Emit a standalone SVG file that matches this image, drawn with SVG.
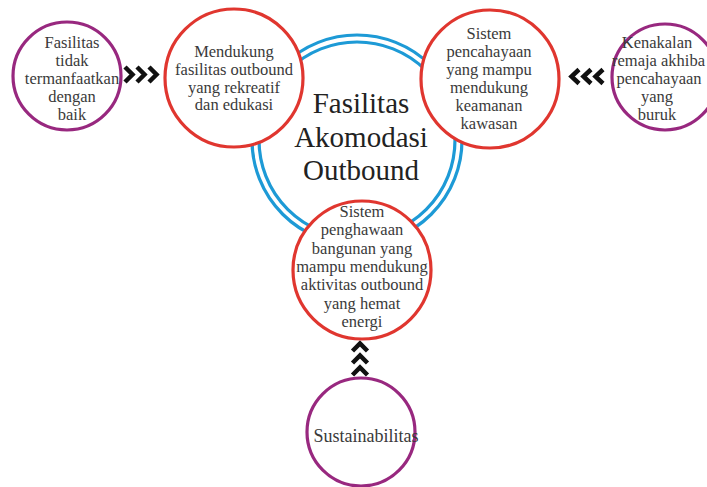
<svg xmlns="http://www.w3.org/2000/svg" width="707" height="487" viewBox="0 0 707 487">
<style>
.ring{fill:none;stroke:#1d9ad6;stroke-width:3.2}
.red{fill:#fff;stroke:#e0362f;stroke-width:3.2}
.pur{fill:#fff;stroke:#98287f;stroke-width:3.2}
.t{font-family:'Liberation Serif','Times New Roman','DejaVu Serif',serif;font-size:16.5px;fill:#3a3a3a;text-anchor:middle}
.title{font-family:'Liberation Serif','Times New Roman','DejaVu Serif',serif;font-size:29px;fill:#222;text-anchor:middle}
.chev{fill:none;stroke:#111;stroke-width:4.5;stroke-linejoin:miter;stroke-miterlimit:10}
</style>
<rect width="707" height="487" fill="#fff"/>
<g id="ring" font-family="Liberation Serif, DejaVu Serif, serif">
<circle class="ring" cx="357" cy="140" r="105"/>
<circle class="ring" cx="357" cy="140" r="98"/>
<text class="title" x="361" y="113">Fasilitas</text>
<text class="title" x="361" y="147">Akomodasi</text>
<text class="title" x="361" y="180">Outbound</text>
</g>
<g id="connectors">
<path class="chev" d="M125,67 L132.5,74.5 L125,82 M137,67 L144.5,74.5 L137,82 M149,67 L156.5,74.5 L149,82"/>
<path class="chev" d="M603,69.5 L595.5,76.5 L603,83.5 M591,69.5 L583.5,76.5 L591,83.5 M579,69.5 L571.5,76.5 L579,83.5"/>
<path class="chev" d="M352.5,351 L360,343.5 L367.5,351 M352.5,363 L360,355.5 L367.5,363 M352.5,375 L360,367.5 L367.5,375"/>
</g>
<g id="node-rekreatif" font-family="Liberation Serif, DejaVu Serif, serif">
<circle class="red" cx="234" cy="78" r="69"/>
<text class="t" x="234" y="57">Mendukung</text>
<text class="t" x="234" y="75">fasilitas outbound</text>
<text class="t" x="234" y="92.5">yang rekreatif</text>
<text class="t" x="234" y="110">dan edukasi</text>
</g>
<g id="node-pencahayaan" font-family="Liberation Serif, DejaVu Serif, serif">
<circle class="red" cx="490" cy="79" r="69"/>
<text class="t" x="489" y="39">Sistem</text>
<text class="t" x="489" y="57">pencahayaan</text>
<text class="t" x="489" y="75">yang mampu</text>
<text class="t" x="489" y="93">mendukung</text>
<text class="t" x="489" y="111">keamanan</text>
<text class="t" x="489" y="129">kawasan</text>
</g>
<g id="node-penghawaan" font-family="Liberation Serif, DejaVu Serif, serif">
<circle class="red" cx="362" cy="270" r="69"/>
<text class="t" x="362" y="217">Sistem</text>
<text class="t" x="362" y="235">penghawaan</text>
<text class="t" x="362" y="253.5">bangunan yang</text>
<text class="t" x="362" y="272">mampu mendukung</text>
<text class="t" x="362" y="290">aktivitas outbound</text>
<text class="t" x="362" y="308.5">yang hemat</text>
<text class="t" x="362" y="327">energi</text>
</g>
<g id="node-fasilitas" font-family="Liberation Serif, DejaVu Serif, serif">
<circle class="pur" cx="67" cy="76" r="54"/>
<text class="t" x="72" y="48">Fasilitas</text>
<text class="t" x="72" y="66">tidak</text>
<text class="t" x="72" y="84">termanfaatkan</text>
<text class="t" x="72" y="102">dengan</text>
<text class="t" x="72" y="120">baik</text>
</g>
<g id="node-kenakalan" font-family="Liberation Serif, DejaVu Serif, serif">
<circle class="pur" cx="665" cy="77" r="53"/>
<text class="t" x="657" y="48">Kenakalan</text>
<text class="t" x="612" y="65.5" style="text-anchor:start">remaja akhiba</text>
<text class="t" x="659" y="83.5">pencahayaan</text>
<text class="t" x="657" y="102">yang</text>
<text class="t" x="657" y="120">buruk</text>
</g>
<g id="node-sustainabilitas" font-family="Liberation Serif, DejaVu Serif, serif">
<circle class="pur" cx="361" cy="432" r="54"/>
<text class="t" x="366" y="442" style="font-size:18px">Sustainabilitas</text>
</g>
</svg>
